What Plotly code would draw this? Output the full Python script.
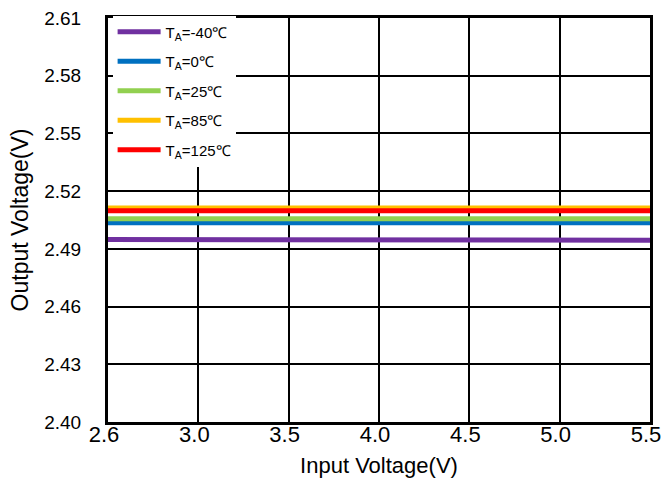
import plotly.graph_objects as go

x_labels = ["2.6", "3.0", "3.5", "4.0", "4.5", "5.0", "5.5"]
series_names = ["T<sub>A</sub>=-40℃", "T<sub>A</sub>=0℃", "T<sub>A</sub>=25℃",
                "T<sub>A</sub>=85℃", "T<sub>A</sub>=125℃"]
v_m40 = [2.4948, 2.4947, 2.4946, 2.4946, 2.4945, 2.4945, 2.4945]
v_0 = [2.5036, 2.5036, 2.5036, 2.5036, 2.5036, 2.5036, 2.5036]
v_25 = [2.5057, 2.5057, 2.5057, 2.5057, 2.5057, 2.5057, 2.5057]
v_85 = [2.5112, 2.5112, 2.5112, 2.5112, 2.5112, 2.5112, 2.5112]
v_125 = [2.5098, 2.5098, 2.5098, 2.5098, 2.5098, 2.5098, 2.5098]
y_ticks = [2.40, 2.43, 2.46, 2.49, 2.52, 2.55, 2.58, 2.61]

colors = ["#7030A0", "#0070C0", "#92D050", "#FFC000", "#FF0000"]
all_vals = [v_m40, v_0, v_25, v_85, v_125]

fig = go.Figure()
for i, (name, vals, c) in enumerate(zip(series_names, all_vals, colors)):
    fig.add_trace(go.Scatter(x=x_labels, y=vals, mode="lines", name=name,
                             legendgroup=str(i),
                             line=dict(color=c, width=5)))

font = "Arial, Liberation Sans, Helvetica, sans-serif"
fig.update_layout(
    width=664, height=478,
    margin=dict(l=108, r=14, t=18, b=56),
    plot_bgcolor="white", paper_bgcolor="white",
    font=dict(family=font, color="black"),
    legend=dict(x=0.0085, y=1.006, xanchor="left", yanchor="top",
                bgcolor="white", borderwidth=0,
                font=dict(size=15, family=font),
                tracegroupgap=7, itemwidth=43,
                traceorder="grouped"),
    showlegend=True,
)
fig.update_xaxes(
    type="category", range=[0, 6], automargin=False,
    showgrid=True, gridcolor="black", gridwidth=1.5,
    showline=True, linecolor="black", linewidth=3, mirror=True,
    ticks="", tickfont=dict(size=22), ticklabelshift=-4, ticklabelstandoff=-9,
    title=dict(text="Input Voltage(V)", font=dict(size=22), standoff=13),
)
fig.update_yaxes(
    range=[2.40, 2.61], tickvals=y_ticks, tickformat=".2f", automargin=False,
    showgrid=True, gridcolor="black", gridwidth=1.5,
    showline=True, linecolor="black", linewidth=3, mirror=True,
    ticks="", tickfont=dict(size=19), zeroline=False, ticklabelstandoff=20,
    title=dict(text="Output Voltage(V)", font=dict(size=23), standoff=10),
)
fig.write_html("out.html")
